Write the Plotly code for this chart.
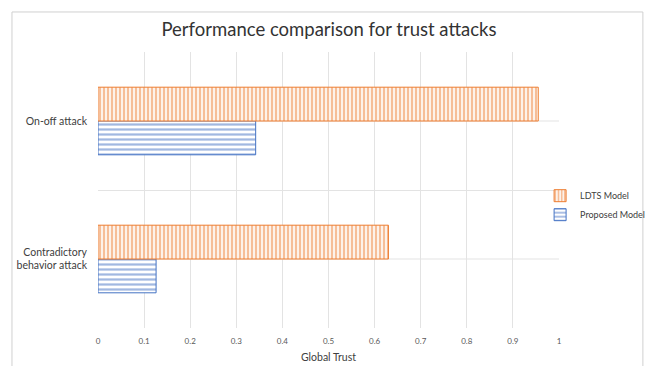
import plotly.graph_objects as go

categories = ["Contradictory<br>behavior attack", "On-off attack"]
ldts_values = [0.63, 0.955]
proposed_values = [0.126, 0.342]
x_ticks = [0, 0.1, 0.2, 0.3, 0.4, 0.5, 0.6, 0.7, 0.8, 0.9, 1]
x_tick_labels = ["0", "0.1", "0.2", "0.3", "0.4", "0.5", "0.6", "0.7", "0.8", "0.9", "1"]

ORANGE = "#ED7D31"
BLUE = "#4472C4"
GRID = "#E3E3E3"
FONT = "Lato"

fig = go.Figure()
fig.add_trace(go.Bar(
    y=categories, x=proposed_values, orientation="h", name="Proposed Model",
    marker=dict(color="white", line=dict(color=BLUE, width=1),
                pattern=dict(shape="-", fgcolor=BLUE, bgcolor="white", size=5, solidity=0.45)),
))
fig.add_trace(go.Bar(
    y=categories, x=ldts_values, orientation="h", name="LDTS Model",
    marker=dict(color="white", line=dict(color=ORANGE, width=1),
                pattern=dict(shape="|", fgcolor=ORANGE, bgcolor="white", size=4, solidity=0.6)),
))

# horizontal grid lines at category centres
for i in range(len(categories)):
    fig.add_shape(type="line", xref="paper", yref="y", x0=0, x1=1, y0=i, y1=i,
                  line=dict(color=GRID, width=1), layer="below")

# chart border
fig.add_shape(type="rect", xref="paper", yref="paper",
              x0=-0.1866, x1=1.182, y0=-0.16, y1=1.145,
              line=dict(color="#D0D0D0", width=1))

fig.update_layout(
    width=651, height=366,
    margin=dict(l=98, r=92, t=52, b=38, autoexpand=False),
    paper_bgcolor="white", plot_bgcolor="white",
    barmode="group", bargap=0.51, bargroupgap=0,
    font=dict(family=FONT, color="#404040"),
    title=dict(text="Performance comparison for trust attacks", x=329 / 651, xref="container",
               y=1 - 30 / 366, yanchor="middle", xanchor="center",
               font=dict(size=18.5, color="#333333", family=FONT)),
    legend=dict(x=0.959, xanchor="left", y=0.445, yanchor="middle", traceorder="reversed",
                font=dict(size=9, color="#404040"), bgcolor="rgba(0,0,0,0)",
                itemwidth=30, tracegroupgap=0),
    showlegend=True,
)
fig.update_xaxes(range=[0, 1], tickvals=x_ticks, ticktext=x_tick_labels,
                 showgrid=True, gridcolor=GRID, gridwidth=1, zeroline=False,
                 showline=False, ticks="", tickfont=dict(size=8, color="#595959"),
                 ticklabelstandoff=7,
                 title=dict(text="Global Trust", font=dict(size=10.5, color="#404040"), standoff=8))
fig.update_yaxes(type="category", showgrid=True, gridcolor=GRID, tickson="boundaries",
                 ticks="", showline=False, zeroline=False,
                 tickfont=dict(size=10.5, color="#404040"), ticklabelstandoff=10)

fig.write_html("out.html")
